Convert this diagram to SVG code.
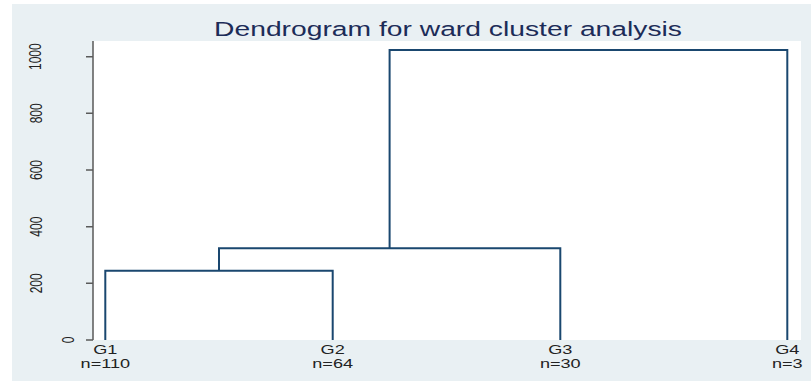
<svg xmlns="http://www.w3.org/2000/svg" width="811" height="383" viewBox="0 0 811 383">
<style>
.bg{fill:#e9f0f3}
.plot{fill:#ffffff}
.axis{stroke:#5a5a5a;stroke-width:1.5;fill:none}
.link{stroke:#1a476f;stroke-width:2;fill:none}
.title{font-family:"Liberation Sans",Arial,sans-serif;font-size:19.5px;fill:#1c2c58}
.tick{font-family:"Liberation Sans",Arial,sans-serif;font-size:12px;fill:#222;text-anchor:middle}
.lab{font-family:"Liberation Sans",Arial,sans-serif;font-size:12.5px;fill:#222;text-anchor:middle}
</style>
<rect x="0" y="0" width="811" height="383" fill="#ffffff"/>
<rect class="bg" x="12" y="4" width="799" height="377"/>
<rect class="plot" x="93" y="41" width="708" height="299"/>
<text class="title" text-anchor="middle" transform="translate(448,36) scale(1.45,1)">Dendrogram for ward cluster analysis</text>
<g id="yaxis">
<path class="axis" d="M93,41V340M86,56.7H93M86,113.3H93M86,170H93M86,226.7H93M86,283.3H93M86,340H93"/>
<text class="tick" transform="translate(41,56.7) scale(1.45,1) rotate(-90)">1000</text>
<text class="tick" transform="translate(42,113.3) scale(1.45,1) rotate(-90)">800</text>
<text class="tick" transform="translate(42,170) scale(1.45,1) rotate(-90)">600</text>
<text class="tick" transform="translate(42,226.7) scale(1.45,1) rotate(-90)">400</text>
<text class="tick" transform="translate(42,283.3) scale(1.45,1) rotate(-90)">200</text>
<text class="tick" transform="translate(74,340) scale(1.45,1) rotate(-90)">0</text>
</g>
<g id="connectors">
<path class="link" d="M105.3,340V270.7H332.7V340"/>
<path class="link" d="M219,270.7V248.3H560.3V340"/>
<path class="link" d="M389.6,248.3V50H787.3V340"/>
</g>
<g id="G1"><text class="lab" transform="translate(105.3,354) scale(1.45,1)">G1</text><text class="lab" transform="translate(105.3,368) scale(1.45,1)">n=110</text></g>
<g id="G2"><text class="lab" transform="translate(332.7,354) scale(1.45,1)">G2</text><text class="lab" transform="translate(332.7,368) scale(1.45,1)">n=64</text></g>
<g id="G3"><text class="lab" transform="translate(560.3,354) scale(1.45,1)">G3</text><text class="lab" transform="translate(560.3,368) scale(1.45,1)">n=30</text></g>
<g id="G4"><text class="lab" transform="translate(787.3,354) scale(1.45,1)">G4</text><text class="lab" transform="translate(787.3,368) scale(1.45,1)">n=3</text></g>
</svg>
